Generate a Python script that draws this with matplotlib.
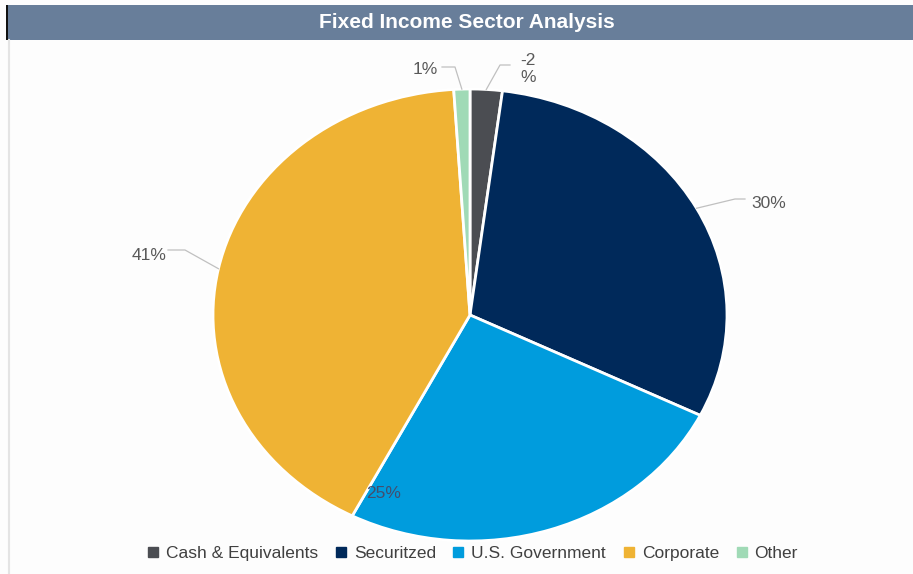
import matplotlib
matplotlib.use("Agg")
import matplotlib.pyplot as plt
from matplotlib.patches import Rectangle
from matplotlib.lines import Line2D
import numpy as np

plt.rcParams['font.family'] = ['Liberation Sans', 'DejaVu Sans']

# sector weights (%)
sectors = ['Cash & Equivalents', 'Securitzed', 'U.S. Government', 'Corporate', 'Other']
weights = [-2, 30, 25, 41, 1]
colors = ['#4B4D52', '#00295A', '#009CDD', '#EFB334', '#A0DAB6']

W, H = 913, 574
fig = plt.figure(figsize=(W / 100, H / 100), dpi=100, facecolor='#FDFDFD')

# pie centre / radii in pixels, axes sized so the pie comes out as an ellipse
cx, cy, rx, ry = 470, 315, 257, 226
xl, yl = 1.5, 1.15
ax = fig.add_axes([(cx - xl * rx) / W, (H - cy - yl * ry) / H,
                   2 * xl * rx / W, 2 * yl * ry / H])

wedges, _ = ax.pie([abs(v) for v in weights], colors=colors, startangle=90,
                   counterclock=False,
                   wedgeprops=dict(edgecolor='white', linewidth=2))
ax.set_aspect('auto')
ax.set_xlim(-xl, xl)
ax.set_ylim(-yl, yl)
ax.axis('off')


def px(x, y):
    # pixel position -> data coords of the pie axes
    return (x - cx) / rx, (cy - y) / ry


def mid_point(w):
    a = np.deg2rad((w.theta1 + w.theta2) / 2)
    return np.cos(a), np.sin(a)


labels = [f'{v}%' for v in weights]
labels[0] = labels[0][:-1] + '\n%'
lead = '#C0C0C0'
txt = '#595959'

# leader elbows and label anchors for the outside labels
layout = {
    0: dict(elbow=[(500, 65), (510, 65)], pos=(528, 69), ha='center'),
    1: dict(elbow=[(735, 199), (745, 199)], pos=(751, 204), ha='left'),
    3: dict(elbow=[(185, 250), (168, 250)], pos=(167, 255), ha='right'),
    4: dict(elbow=[(455, 67), (442, 67)], pos=(438, 69), ha='right'),
}
for i, w in enumerate(wedges):
    if i in layout:
        L = layout[i]
        pts = [mid_point(w)] + [px(*p) for p in L['elbow']]
        xs, ys = zip(*pts)
        ax.plot(xs, ys, color=lead, lw=0.9, clip_on=False)
        ax.text(*px(*L['pos']), labels[i], ha=L['ha'], va='center',
                fontsize=12.5, color=txt, linespacing=1.1, clip_on=False)
    else:
        ax.text(*px(384, 493), labels[i], ha='center', va='center',
                fontsize=12.5, color='#434E6E')

# title bar
fig.patches.append(Rectangle((8 / W, 1 - 40 / H), 1 - 8 / W, 35 / H,
                             transform=fig.transFigure, facecolor='#687E9A',
                             edgecolor='none', zorder=1))
fig.patches.append(Rectangle((6 / W, 1 - 40 / H), 2 / W, 35 / H,
                             transform=fig.transFigure, facecolor='#111111',
                             edgecolor='none', zorder=1))
fig.lines.append(Line2D([8.5 / W, 8.5 / W], [0, 1 - 40 / H],
                        transform=fig.transFigure, color='#E4E4E4', lw=1.5))
fig.text(467 / W, 1 - 23 / H, 'Fixed Income Sector Analysis', ha='center',
         va='center', color='white', fontsize=15, fontweight='bold', zorder=3)

handles = [Line2D([], [], marker='s', ls='none', color=c, markersize=6.5)
           for c in colors]
fig.legend(handles, sectors, loc='center', bbox_to_anchor=(472 / W, 1 - 553 / H),
           ncol=5, frameon=False, fontsize=12.5, handlelength=0.8,
           handletextpad=0.35, columnspacing=0.9, labelcolor='#404040')

fig.savefig('out.png', dpi=100, facecolor=fig.get_facecolor())
